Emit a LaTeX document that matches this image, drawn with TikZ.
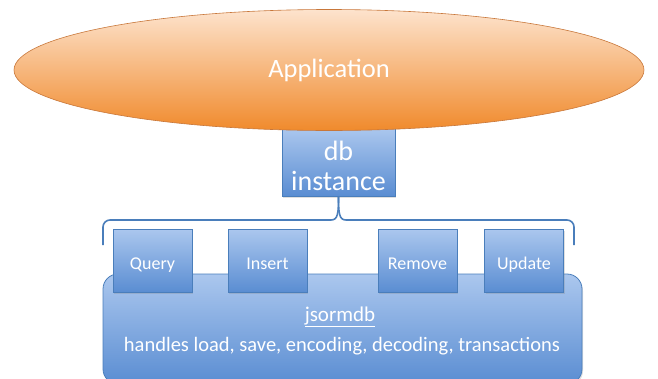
\documentclass[tikz,border=0pt]{standalone}
\usepackage{fontspec}
\setmainfont{Carlito}
\usetikzlibrary{shapes.geometric,shadows}
\definecolor{boxtop}{HTML}{ABC7EE}
\definecolor{boxbot}{HTML}{5A8DD2}
\definecolor{boxline}{HTML}{4A7EBB}
\definecolor{apptop}{HTML}{FDE3CD}
\definecolor{appbot}{HTML}{F08A2C}
\definecolor{appline}{HTML}{C8773A}
\tikzset{
  bluebox/.style={draw=boxline, line width=0.8pt, top color=boxtop, bottom color=boxbot,
    text=white, inner sep=0pt, drop shadow={opacity=0.25, shadow xshift=1pt, shadow yshift=-2pt}},
  opbox/.style={bluebox, minimum width=79pt, minimum height=63pt, text height=17pt, text depth=0pt,
    font=\fontsize{18}{20}\selectfont},
  bracket/.style={draw=boxline, line width=1.6pt}
}
\begin{document}
\begin{tikzpicture}[x=1pt,y=-1pt]
\useasboundingbox (0,0) rectangle (658,378);
%\draw[help lines,step=50] (0,0) grid (658,378);
% db instance sits under the application
\node[bluebox, minimum width=113pt, minimum height=68pt, align=center,
  font=\fontsize{28}{30}\selectfont] (db) at (338.5,162) {\raisebox{0pt}[27pt][0pt]{db}\\instance};
\node[ellipse, draw=appline, line width=0.6pt, top color=apptop, bottom color=appbot,
  minimum width=630pt, minimum height=121pt, text=white,
  font=\fontsize{26.5}{30}\selectfont] (app) at (329,70) {Application};
% jsormdb layer
\node[bluebox, rounded corners=15pt, minimum width=479pt, minimum height=110pt] (core) at (342.5,329) {};
\node[text=white, font=\fontsize{21}{24}\selectfont] (name) at (340,317) {\underline{jsormdb}};
\node[text=white, font=\fontsize{20.5}{24}\selectfont] (desc) at (342,346) {handles load, save, encoding, decoding, transactions};
% operations
\node[opbox] (query) at (152.5,260.5) {Query};
\node[opbox] (insert) at (267.5,260.5) {Insert};
\node[opbox] (remove) at (417.5,260.5) {Remove};
\node[opbox] (update) at (524,260.5) {Update};
% bracket from db down to the operations
\coordinate (bl) at (103,245);
\coordinate (br) at (574,245);
\draw[bracket, rounded corners=7pt] (bl) -- (103,220) -- (331,220);
\draw[bracket] (331,220) .. controls (338,220) and (338.5,213) .. (db.south);
\draw[bracket] (db.south) .. controls (338.5,213) and (339,220) .. (346,220);
\draw[bracket, rounded corners=7pt] (346,220) -- (574,220) -- (br);
\end{tikzpicture}
\end{document}
